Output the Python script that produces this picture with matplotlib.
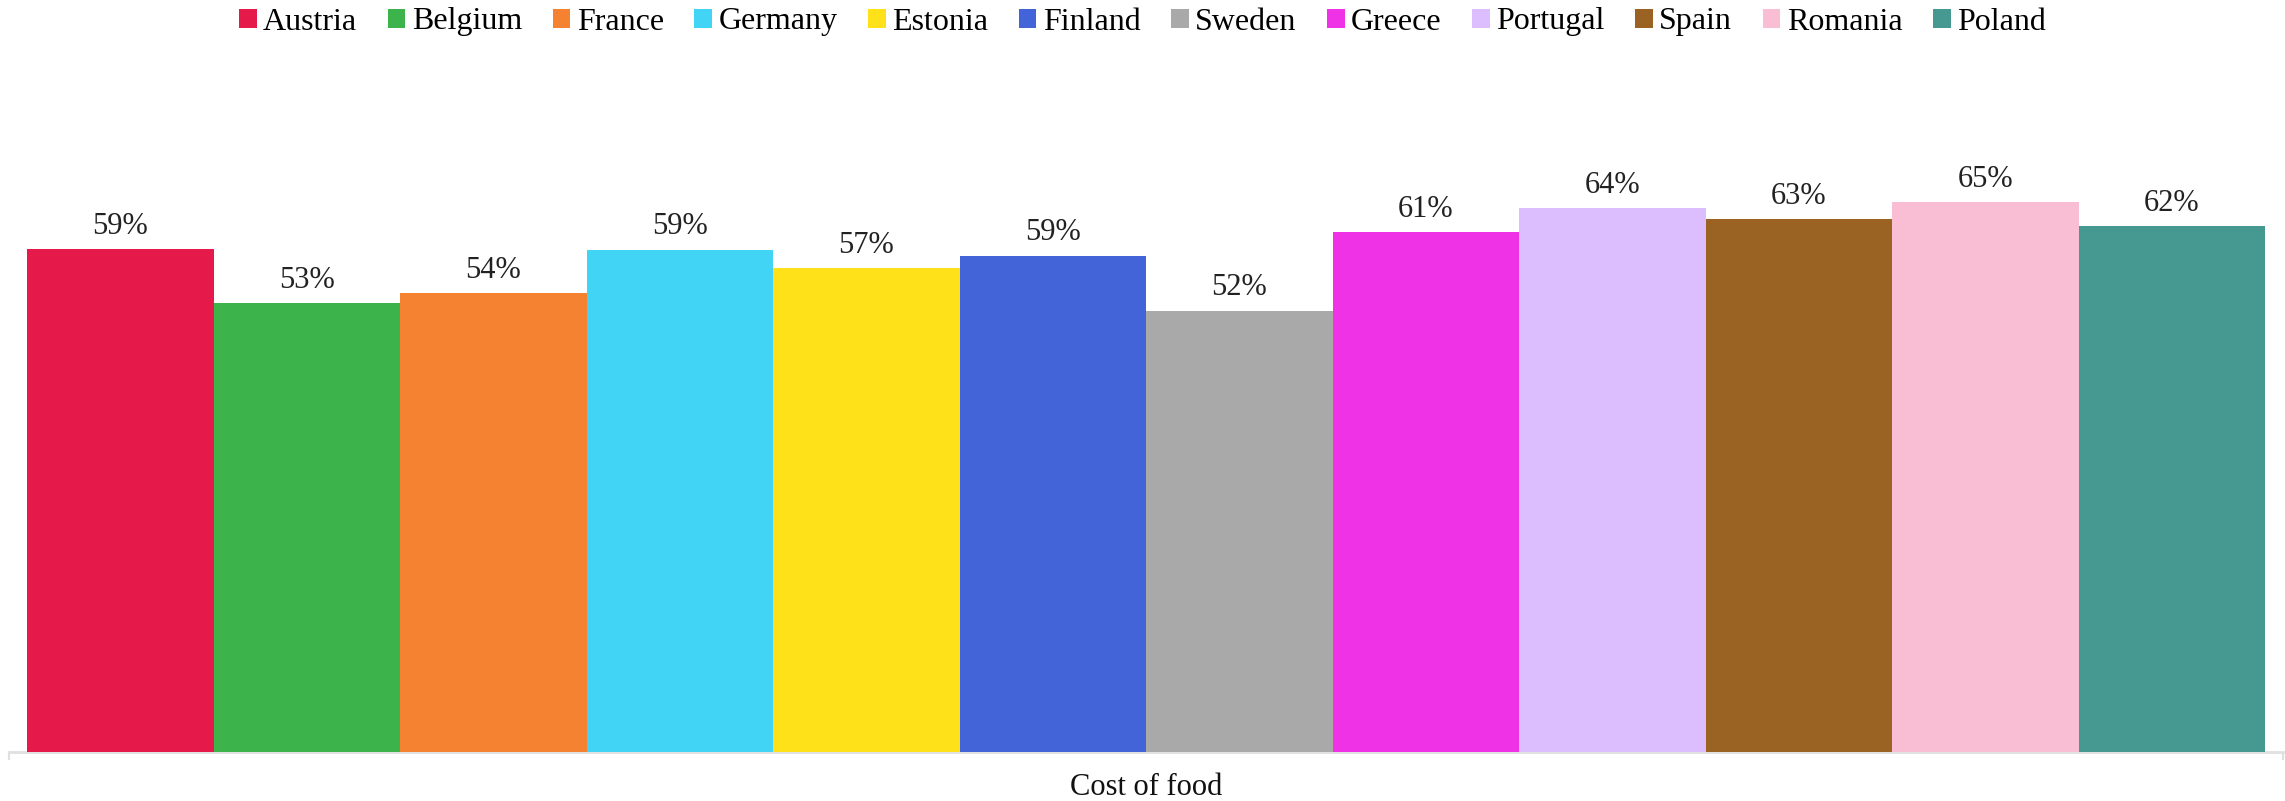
import matplotlib.pyplot as plt
from matplotlib.patches import Patch

countries = ["Austria", "Belgium", "France", "Germany", "Estonia", "Finland",
             "Sweden", "Greece", "Portugal", "Spain", "Romania", "Poland"]
cost_of_food = [59.4, 53.0, 54.2, 59.3, 57.1, 58.6, 52.1, 61.4, 64.2, 62.9, 64.9, 62.1]
colors = ["#e6194b", "#3cb44b", "#f58231", "#42d4f4", "#ffe119", "#4363d8",
          "#a9a9a9", "#f032e6", "#dcbeff", "#9a6324", "#fabed4", "#469990"]
category = "Cost of food"

plt.rcParams['font.family'] = ['Liberation Serif', 'DejaVu Serif']

W, H = 2285, 801
fig = plt.figure(figsize=(W / 100, H / 100), dpi=100)
# axes box in pixels: x 9..2283, baseline at y=752
ax = fig.add_axes([9 / W, 49 / H, 2274 / W, 652 / H])

x = list(range(len(countries)))
bars = ax.bar(x, cost_of_food, width=1.0, color=colors, zorder=3)

for xi, v in zip(x, cost_of_food):
    ax.annotate(f"{round(v)}%", (xi, v), xytext=(0, 11), textcoords='offset points',
                ha='center', va='baseline', fontsize=22, color='#222222')

pad = 18 / 186.5
xmin, xmax = -0.5 - pad, len(countries) - 0.5 + pad
ax.set_xlim(xmin, xmax)
ax.set_ylim(0, 652 / 8.47)

# axis styling: only a light bottom line with end ticks
for s in ['top', 'left', 'right']:
    ax.spines[s].set_visible(False)
ax.spines['bottom'].set_color('#e0e0e0')
ax.spines['bottom'].set_linewidth(2)
ax.set_yticks([])
ax.set_xticks([xmin, xmax])
ax.set_xticklabels([])
ax.tick_params(axis='x', length=6, width=1.5, color='#e0e0e0')

fig.text((9 + 2274 / 2) / W, 6 / H, category, ha='center', va='baseline', fontsize=22, color='#111111')

handles = [Patch(facecolor=c, edgecolor='none') for c in colors]
fig.legend(handles, countries, loc='center', bbox_to_anchor=(0.5, 1 - 22 / H), ncol=len(countries),
           frameon=False, fontsize=23, handlelength=0.55, handleheight=0.55,
           handletextpad=0.2, columnspacing=0.96, borderaxespad=0, borderpad=0)

fig.savefig("out.png", dpi=100)
